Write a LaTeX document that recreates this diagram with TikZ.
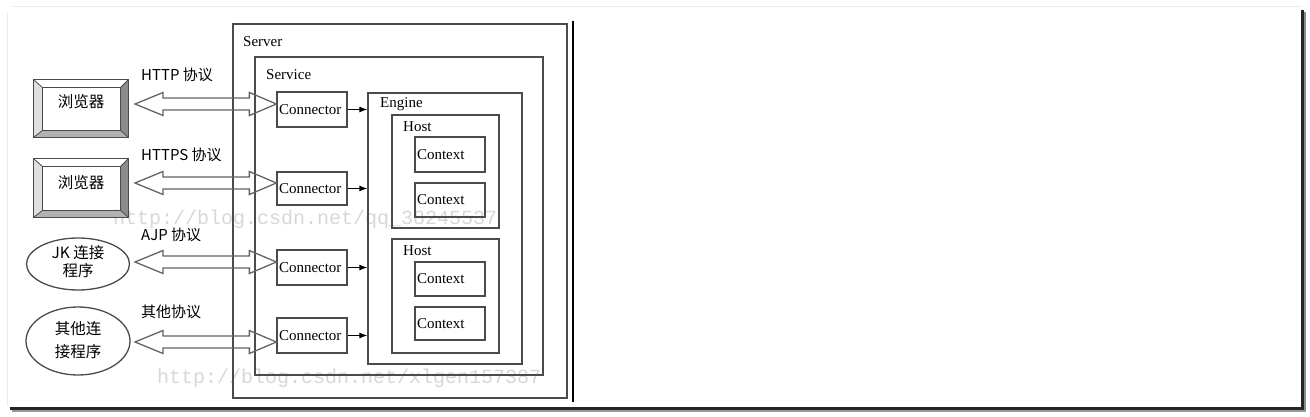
\documentclass[tikz,border=0pt]{standalone}
\usepackage{fontspec}
\setmainfont{Liberation Serif}
\newfontfamily\cjk{Noto Sans CJK SC}
\newfontfamily\wmfont{Liberation Mono}
\usetikzlibrary{arrows.meta,calc,shapes.geometric}
\definecolor{linec}{RGB}{75,75,75}
\definecolor{arrc}{RGB}{100,100,100}
\definecolor{wmc}{RGB}{215,215,215}
\newcommand\dblarrow[2]{%
  \draw[blk] (#1) -- ($(#1)+(28,-11.5)$) -- ($(#1)+(28,-6)$) -- ($(#2)+(-27,-6)$) -- ($(#2)+(-27,-11.5)$) -- (#2)
    -- ($(#2)+(-27,11.5)$) -- ($(#2)+(-27,6)$) -- ($(#1)+(28,6)$) -- ($(#1)+(28,11.5)$) -- cycle;}
\newcommand\bevelbox[1]{%
  \fill[white] (#1.north west) -- (#1.north east) -- ($(#1.north east)+(-8,8)$) -- ($(#1.north west)+(9,8)$) -- cycle;
  \fill[gray!25] (#1.north west) -- ($(#1.north west)+(9,8)$) -- ($(#1.south west)+(9,-7)$) -- (#1.south west) -- cycle;
  \fill[gray!90] (#1.north east) -- (#1.south east) -- ($(#1.south east)+(-8,-7)$) -- ($(#1.north east)+(-8,8)$) -- cycle;
  \fill[gray!60] (#1.south west) -- (#1.south east) -- ($(#1.south east)+(-8,-7)$) -- ($(#1.south west)+(9,-7)$) -- cycle;
  \draw[linec, line width=1.2pt] (#1.north west) rectangle (#1.south east);
  \draw[linec, line width=1.2pt] ($(#1.north west)+(9,8)$) rectangle ($(#1.south east)+(-8,-7)$);
  \draw[linec, line width=0.8pt] (#1.north west) -- ($(#1.north west)+(9,8)$) (#1.north east) -- ($(#1.north east)+(-8,8)$)
     (#1.south west) -- ($(#1.south west)+(9,-7)$) (#1.south east) -- ($(#1.south east)+(-8,-7)$);}
\begin{document}
\begin{tikzpicture}[x=1pt,y=-1pt,
  cont/.style={draw=linec, line width=1.3pt, inner sep=0, anchor=center},
  cbox/.style={draw=linec, line width=1.3pt, inner sep=0, inner xsep=2pt, text width=66pt, align=left, font=\fontsize{15}{15}\selectfont},
  lbl/.style={anchor=west, inner sep=0, font=\fontsize{15}{15}\selectfont},
  plbl/.style={anchor=west, inner sep=0, font=\cjk\fontsize{15}{15}\selectfont},
  ctxt/.style={inner sep=0, font=\cjk\fontsize{15.5}{15.5}\selectfont, align=center},
  blk/.style={draw=arrc, line width=1.3pt, line join=miter},
  conn/.style={draw=black, line width=1pt, -{Latex[length=8pt,width=6pt]}},
  wm/.style={inner sep=0, anchor=west, text=wmc, font=\wmfont\fontsize{20}{20}\selectfont}]
\useasboundingbox (0,0) rectangle (1310,417);
\fill[white] (0,0) rectangle (1310,417);
% page frame
\draw[gray!15, line width=1pt] (12,7) -- (1302,7);
\draw[gray!15, line width=1pt] (7,12) -- (7,406);
\fill[black!85] (1301,10) rectangle (1304,410);
\fill[black!45] (1304,12) rectangle (1306,411);
\fill[black!85] (10,407) rectangle (1304,410);
\fill[black!40] (12,410) rectangle (1306,412);
% black vertical rule
\draw[black, line width=2pt] (573,21) -- (573,402);
% watermarks
\node[wm] (wm1) at (113,219) {http://blog.csdn.net/qq\_38245537};
\node[wm] (wm2) at (157,378) {http://blog.csdn.net/xlgen157387};
% containers
\node[cont, minimum width=334pt, minimum height=374pt] (server) at (400,211) {};
\node[cont, minimum width=288pt, minimum height=318pt] (service) at (399,216) {};
\node[cont, minimum width=154pt, minimum height=271pt] (engine) at (445,228.5) {};
\node[cont, minimum width=107pt, minimum height=113pt] (host1) at (445.5,171.5) {};
\node[cont, minimum width=107pt, minimum height=114pt] (host2) at (445.5,296) {};
\node[lbl] (lserver) at (243,42) {Server};
\node[lbl] (lservice) at (266,75) {Service};
\node[lbl] (lengine) at (380,104) {Engine};
\node[lbl] (lhost1) at (403,127) {Host};
\node[lbl] (lhost2) at (403,251) {Host};
% contexts
\node[cbox, minimum height=35pt] (ctx1) at (450,154.5) {Context};
\node[cbox, minimum height=34pt] (ctx2) at (450,200) {Context};
\node[cbox, minimum height=34pt] (ctx3) at (450,279) {Context};
\node[cbox, minimum height=33pt] (ctx4) at (450,323.5) {Context};
% connectors
\node[cbox, minimum height=35pt] (c1) at (312,109.5) {Connector};
\node[cbox, minimum height=33pt] (c2) at (312,188.5) {Connector};
\node[cbox, minimum height=35pt] (c3) at (312,267.5) {Connector};
\node[cbox, minimum height=35pt] (c4) at (312,335.5) {Connector};
\foreach \c in {c1,c2,c3,c4} \draw[conn] (\c.east) -- (\c.east -| engine.west);
% clients
\node[inner sep=0, minimum width=94pt, minimum height=57pt] (b1) at (81,108.5) {};
\node[inner sep=0, minimum width=94pt, minimum height=58pt] (b2) at (81,188) {};
\bevelbox{b1}
\bevelbox{b2}
\node[ctxt] (tb1) at (81,102) {浏览器};
\node[ctxt] (tb2) at (81,183) {浏览器};
\node[ellipse, draw=linec, line width=1.3pt, inner sep=0, minimum width=103pt, minimum height=52pt] (e1) at (78,264) {};
\node[ellipse, draw=linec, line width=1.3pt, inner sep=0, minimum width=104pt, minimum height=68pt] (e2) at (78,341) {};
\node[ctxt] (te1a) at (78,253) {JK 连接};
\node[ctxt] (te1b) at (78,271) {程序};
\node[ctxt] (te2a) at (78,329) {其他连};
\node[ctxt] (te2b) at (78,352) {接程序};
% protocol labels
\node[plbl] (p1) at (141,75) {HTTP 协议};
\node[plbl] (p2) at (141,155) {HTTPS 协议};
\node[plbl] (p3) at (141,235) {AJP 协议};
\node[plbl] (p4) at (141,312) {其他协议};
% double arrows
\coordinate (a1) at (135,104);
\coordinate (a2) at (135,183);
\coordinate (a3) at (135,262);
\coordinate (a4) at (135,342);
\coordinate (r1) at (a1 -| c1.west);
\coordinate (r2) at (a2 -| c2.west);
\coordinate (r3) at (a3 -| c3.west);
\coordinate (r4) at (a4 -| c4.west);
\dblarrow{a1}{r1}
\dblarrow{a2}{r2}
\dblarrow{a3}{r3}
\dblarrow{a4}{r4}
\end{tikzpicture}
\end{document}
